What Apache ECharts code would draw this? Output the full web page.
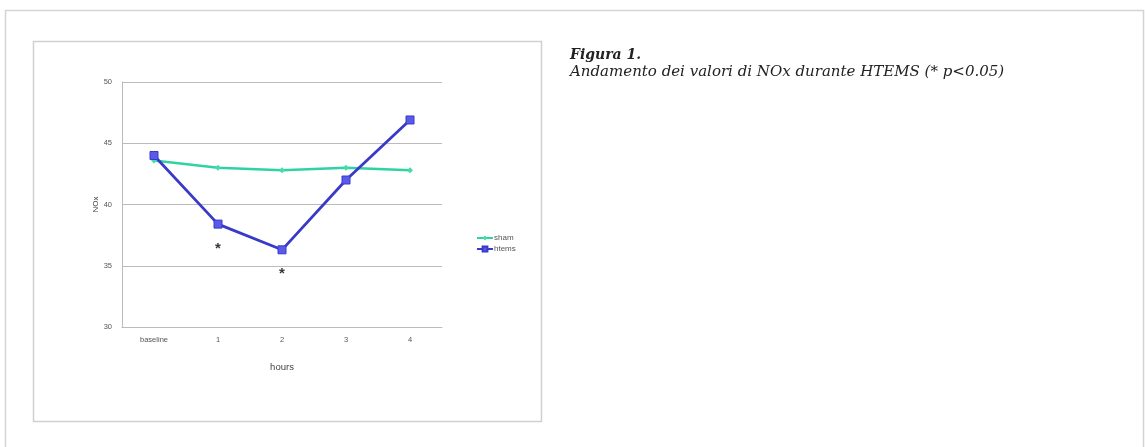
<!DOCTYPE html>
<html><head><meta charset="utf-8">
<script src="https://cdn.jsdelivr.net/npm/echarts@6/dist/echarts.min.js"></script>
<style>html,body{margin:0;padding:0;background:#fff}#c{width:1145px;height:447px}</style>
</head><body><div id="c"></div>
<script>
const categories = ['baseline', '1', '2', '3', '4'];
const shamValues = [43.6, 43.0, 42.8, 43.0, 42.8];
const htemsValues = [44.0, 38.4, 36.3, 42.0, 46.9];
const significance = [null, 36.4, 34.3, null, null];
const yTicks = [30, 35, 40, 45, 50];

const chart = echarts.init(document.getElementById('c'));
chart.setOption({
  animation: false,
  backgroundColor: '#fff',
  grid: {left: 122, top: 82, right: 703, bottom: 120, containLabel: false},
  legend: {
    orient: 'vertical', left: 471, top: 229, itemGap: 3, itemWidth: 16, itemHeight: 6,
    data: ['sham', 'htems'],
    textStyle: {fontSize: 8, color: '#555', fontFamily: 'Liberation Sans', padding: [0,0,0,-4]}
  },
  xAxis: {
    type: 'category', data: categories, boundaryGap: true,
    name: 'hours', nameLocation: 'middle', nameGap: 35,
    nameTextStyle: {fontSize: 9.5, color: '#444', fontFamily: 'Liberation Sans'},
    axisLine: {lineStyle: {color: '#bbb'}}, axisTick: {show: false},
    axisLabel: {fontSize: 7.5, color: '#555', margin: 9, fontFamily: 'Liberation Sans'}
  },
  yAxis: {
    type: 'value', min: 30, max: 50, interval: 5,
    name: 'NOx', nameLocation: 'middle', nameGap: 19, nameRotate: 90,
    nameTextStyle: {fontSize: 8, color: '#444', fontFamily: 'Liberation Sans'},
    axisLine: {show: true, lineStyle: {color: '#bbb'}}, axisTick: {show: false},
    splitLine: {lineStyle: {color: '#bbb'}},
    axisLabel: {fontSize: 7.5, color: '#555', margin: 10, fontFamily: 'Liberation Sans',
      formatter: v => yTicks.includes(v) ? String(v) : ''}
  },
  series: [
    {name: 'sham', type: 'line', data: shamValues, symbol: 'diamond', symbolSize: 6,
      lineStyle: {color: '#2fd3a3', width: 2.5}, itemStyle: {color: '#44dcaa'}, color: '#2fd3a3'},
    {name: 'htems', type: 'line', data: htemsValues, symbol: 'rect', symbolSize: 8,
      lineStyle: {color: '#3a3ac8', width: 2.8}, itemStyle: {color: '#5a5aea', borderColor: '#3a3ac8', borderWidth: 1}, color: '#3a3ac8'},
    {name: 'sig', type: 'scatter', data: significance, symbolSize: 0, silent: true,
      label: {show: true, formatter: '*', position: 'inside', fontSize: 15, fontWeight: 'bold', color: '#000', fontFamily: 'Liberation Sans'}}
  ],
  graphic: [
    {type: 'rect', shape: {x: 5.5, y: 10.5, width: 1138, height: 450}, style: {fill: 'none', stroke: '#d4d4d4', lineWidth: 1.5}},
    {type: 'rect', shape: {x: 33.5, y: 41.5, width: 508, height: 380}, style: {fill: 'none', stroke: '#d0d0d0', lineWidth: 1.5}},
    {type: 'text', left: 570, top: 48, style: {text: 'Figura 1.', font: 'italic bold 14px "DejaVu Serif"', fill: '#222'}},
    {type: 'text', left: 570, top: 65, style: {text: 'Andamento dei valori di NOx durante HTEMS (* p<0.05)', font: 'italic 15px "DejaVu Serif"', fill: '#222'}}
  ]
});
</script></body></html>
